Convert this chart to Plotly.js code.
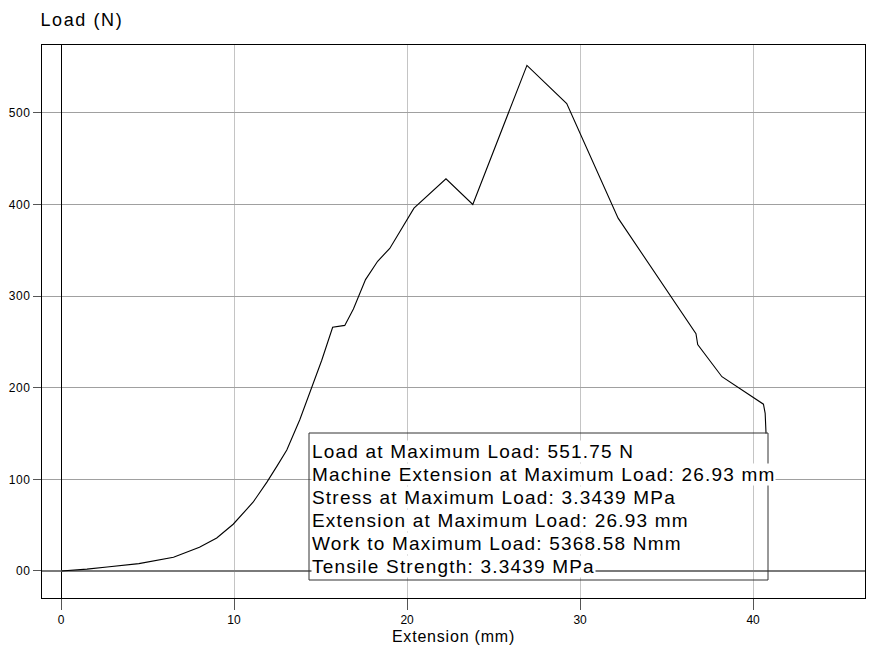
<!DOCTYPE html>
<html>
<head>
<meta charset="utf-8">
<script src="https://cdn.plot.ly/plotly-3.0.1.min.js"></script>
<style>
html,body{margin:0;padding:0;background:#fff;}
#chart{width:878px;height:650px;}
.annotation-text{letter-spacing:1.2px;}
.annotation[data-index="6"] .annotation-text{letter-spacing:1.6px;}
.xtitle{letter-spacing:0.8px;}
.ytick text{letter-spacing:0.6px;}
</style>
</head>
<body>
<div id="chart"></div>
<script>
const extension = [0, 1.5, 2.66, 4.5, 6.5, 8.0, 9.0, 9.95, 11.1, 11.9, 12.5, 13.05, 13.8, 14.5, 15.07, 15.7, 16.4, 16.9, 17.6, 18.3, 19.0, 20.4, 22.25, 23.8, 26.93, 29.23, 32.2, 36.7, 36.8, 38.2, 40.6, 40.7, 40.75];
const load = [0, 2, 4.4, 8, 15, 26, 36, 51, 75, 97, 115, 132, 165, 200, 230, 266, 268, 286, 318, 338, 352, 396, 428, 400, 551.75, 510, 385, 259, 247, 212, 182, 172, 150];

const xTickVals = [0, 10, 20, 30, 40];
const xTickText = ['0', '10', '20', '30', '40'];
const yTickVals = [0, 100, 200, 300, 400, 500];
const yTickText = ['00', '100', '200', '300', '400', '500'];

const summaryLines = [
  'Load at Maximum Load: 551.75 N',
  'Machine Extension at Maximum Load: 26.93 mm',
  'Stress at Maximum Load: 3.3439 MPa',
  'Extension at Maximum Load: 26.93 mm',
  'Work to Maximum Load: 5368.58 Nmm',
  'Tensile Strength: 3.3439 MPa'
];

const FONT = 'Liberation Sans, Arial, sans-serif';

// layout geometry (pixels within plot area: 823 x 553)
const plotW = 823, plotH = 553;
const boxLeftPx = 309 - 42, boxRightPx = 768 - 42, boxTopPx = 433 - 45, boxBottomPx = 580 - 45;
const firstLinePx = 451 - 45, lineStep = 23;

const annotations = summaryLines.map((t, i) => ({
  text: t,
  xref: 'paper', yref: 'paper',
  x: (311 - 42) / plotW,
  y: 1 - (firstLinePx + i * lineStep) / plotH,
  xanchor: 'left', yanchor: 'middle',
  showarrow: false,
  bgcolor: '#ffffff',
  borderpad: 0,
  font: {family: FONT, size: 19, color: '#000'}
}));

annotations.push({
  text: 'Load (N)', xref: 'paper', yref: 'paper',
  x: -1 / plotW, y: 1 + 25 / plotH, xanchor: 'left', yanchor: 'middle',
  showarrow: false, borderpad: 0, font: {family: FONT, size: 18, color: '#000'}
});

const layout = {
  width: 878, height: 650,
  margin: {l: 42, r: 13, t: 45, b: 52},
  paper_bgcolor: '#fff', plot_bgcolor: '#fff',
  showlegend: false,
  xaxis: {
    range: [-1.1, 46.47],
    tickvals: xTickVals, ticktext: xTickText,
    ticks: 'outside', ticklen: 11, tickcolor: '#555',
    tickfont: {family: FONT, size: 12, color: '#000'},
    showgrid: true, gridcolor: '#c4c4c4', gridwidth: 1,
    zeroline: true, zerolinecolor: '#000', zerolinewidth: 1,
    showline: true, mirror: true, linecolor: '#000', linewidth: 1,
    title: {text: 'Extension (mm)', font: {family: FONT, size: 16, color: '#000'}, standoff: 4}
  },
  yaxis: {
    range: [-29.5, 574],
    tickvals: yTickVals, ticktext: yTickText,
    ticks: 'outside', ticklen: 8, tickcolor: '#555',
    tickfont: {family: FONT, size: 12, color: '#000'},
    showgrid: true, gridcolor: '#a0a0a0', gridwidth: 1,
    zeroline: true, zerolinecolor: '#7a7a7a', zerolinewidth: 1.5,
    showline: true, mirror: true, linecolor: '#000', linewidth: 1
  },
  shapes: [{
    type: 'rect', xref: 'paper', yref: 'paper', layer: 'above',
    x0: boxLeftPx / plotW, x1: boxRightPx / plotW,
    y0: 1 - boxBottomPx / plotH, y1: 1 - boxTopPx / plotH,
    line: {color: '#333', width: 1}, fillcolor: 'rgba(0,0,0,0)'
  }],
  annotations: annotations
};

const trace = {
  x: extension, y: load, type: 'scatter', mode: 'lines',
  line: {color: '#000', width: 1.1}, hoverinfo: 'skip'
};

Plotly.newPlot('chart', [trace], layout, {displayModeBar: false, staticPlot: true});
</script>
</body>
</html>
